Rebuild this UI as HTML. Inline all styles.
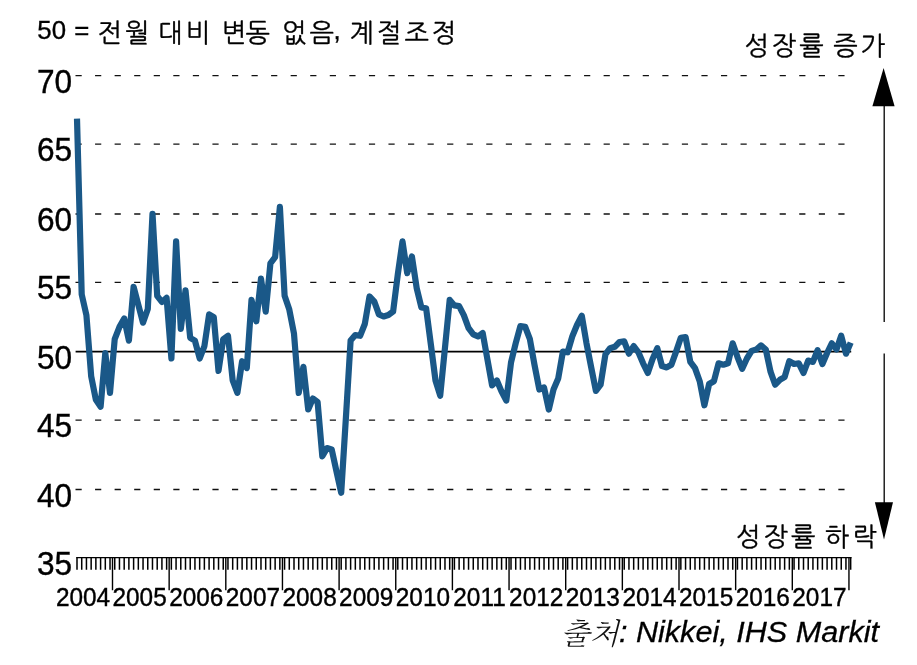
<!DOCTYPE html>
<html lang="ko"><head><meta charset="utf-8"><title>chart</title>
<style>
html,body{margin:0;padding:0;background:#fff;}
body{width:917px;height:665px;overflow:hidden;position:relative;font-family:"Liberation Sans","NanumGothic",sans-serif;}
svg{position:absolute;left:0;top:0;display:block}
.t{font-family:"Liberation Sans","NanumGothic",sans-serif;fill:#000}
</style></head><body>
<svg width="917" height="665" viewBox="0 0 917 665">
<rect width="917" height="665" fill="#fff"/>
<g stroke="#111" stroke-width="1.3" stroke-dasharray="6.2 13.36" fill="none">
<line x1="75.5" y1="75.7" x2="847" y2="75.7"/>
<line x1="75.5" y1="144.2" x2="847" y2="144.2"/>
<line x1="75.5" y1="214.0" x2="847" y2="214.0"/>
<line x1="75.5" y1="282.4" x2="847" y2="282.4"/>
<line x1="75.5" y1="420.1" x2="847" y2="420.1"/>
<line x1="75.5" y1="489.5" x2="847" y2="489.5"/>
</g>
<line x1="75.6" y1="351.7" x2="851.2" y2="351.7" stroke="#000" stroke-width="1.7"/>
<path d="M76.2,557.6H851.6" stroke="#000" stroke-width="1.4" fill="none"/>
<path d="M77.00,557.6V569.8M81.72,557.6V569.8M86.44,557.6V569.8M91.15,557.6V569.8M95.87,557.6V569.8M100.59,557.6V569.8M105.31,557.6V569.8M110.02,557.6V569.8M114.74,557.6V569.8M119.46,557.6V569.8M124.18,557.6V569.8M128.89,557.6V569.8M133.61,557.6V569.8M138.33,557.6V569.8M143.05,557.6V569.8M147.76,557.6V569.8M152.48,557.6V569.8M157.20,557.6V569.8M161.92,557.6V569.8M166.63,557.6V569.8M171.35,557.6V569.8M176.07,557.6V569.8M180.79,557.6V569.8M185.50,557.6V569.8M190.22,557.6V569.8M194.94,557.6V569.8M199.66,557.6V569.8M204.37,557.6V569.8M209.09,557.6V569.8M213.81,557.6V569.8M218.53,557.6V569.8M223.24,557.6V569.8M227.96,557.6V569.8M232.68,557.6V569.8M237.40,557.6V569.8M242.11,557.6V569.8M246.83,557.6V569.8M251.55,557.6V569.8M256.26,557.6V569.8M260.98,557.6V569.8M265.70,557.6V569.8M270.42,557.6V569.8M275.13,557.6V569.8M279.85,557.6V569.8M284.57,557.6V569.8M289.29,557.6V569.8M294.00,557.6V569.8M298.72,557.6V569.8M303.44,557.6V569.8M308.16,557.6V569.8M312.88,557.6V569.8M317.59,557.6V569.8M322.31,557.6V569.8M327.03,557.6V569.8M331.75,557.6V569.8M336.46,557.6V569.8M341.18,557.6V569.8M345.90,557.6V569.8M350.62,557.6V569.8M355.33,557.6V569.8M360.05,557.6V569.8M364.77,557.6V569.8M369.49,557.6V569.8M374.20,557.6V569.8M378.92,557.6V569.8M383.64,557.6V569.8M388.36,557.6V569.8M393.07,557.6V569.8M397.79,557.6V569.8M402.51,557.6V569.8M407.23,557.6V569.8M411.94,557.6V569.8M416.66,557.6V569.8M421.38,557.6V569.8M426.10,557.6V569.8M430.81,557.6V569.8M435.53,557.6V569.8M440.25,557.6V569.8M444.97,557.6V569.8M449.68,557.6V569.8M454.40,557.6V569.8M459.12,557.6V569.8M463.84,557.6V569.8M468.55,557.6V569.8M473.27,557.6V569.8M477.99,557.6V569.8M482.71,557.6V569.8M487.42,557.6V569.8M492.14,557.6V569.8M496.86,557.6V569.8M501.58,557.6V569.8M506.29,557.6V569.8M511.01,557.6V569.8M515.73,557.6V569.8M520.45,557.6V569.8M525.16,557.6V569.8M529.88,557.6V569.8M534.60,557.6V569.8M539.32,557.6V569.8M544.03,557.6V569.8M548.75,557.6V569.8M553.47,557.6V569.8M558.18,557.6V569.8M562.90,557.6V569.8M567.62,557.6V569.8M572.34,557.6V569.8M577.06,557.6V569.8M581.77,557.6V569.8M586.49,557.6V569.8M591.21,557.6V569.8M595.93,557.6V569.8M600.64,557.6V569.8M605.36,557.6V569.8M610.08,557.6V569.8M614.80,557.6V569.8M619.51,557.6V569.8M624.23,557.6V569.8M628.95,557.6V569.8M633.67,557.6V569.8M638.38,557.6V569.8M643.10,557.6V569.8M647.82,557.6V569.8M652.54,557.6V569.8M657.25,557.6V569.8M661.97,557.6V569.8M666.69,557.6V569.8M671.41,557.6V569.8M676.12,557.6V569.8M680.84,557.6V569.8M685.56,557.6V569.8M690.27,557.6V569.8M694.99,557.6V569.8M699.71,557.6V569.8M704.43,557.6V569.8M709.14,557.6V569.8M713.86,557.6V569.8M718.58,557.6V569.8M723.30,557.6V569.8M728.01,557.6V569.8M732.73,557.6V569.8M737.45,557.6V569.8M742.17,557.6V569.8M746.88,557.6V569.8M751.60,557.6V569.8M756.32,557.6V569.8M761.04,557.6V569.8M765.75,557.6V569.8M770.47,557.6V569.8M775.19,557.6V569.8M779.91,557.6V569.8M784.62,557.6V569.8M789.34,557.6V569.8M794.06,557.6V569.8M798.78,557.6V569.8M803.50,557.6V569.8M808.21,557.6V569.8M812.93,557.6V569.8M817.65,557.6V569.8M822.37,557.6V569.8M827.08,557.6V569.8M831.80,557.6V569.8M836.52,557.6V569.8M841.24,557.6V569.8M845.95,557.6V569.8M850.67,557.6V569.8" stroke="#000" stroke-width="1.5" fill="none"/>
<path d="M112.50,557.6V590.2M169.15,557.6V590.2M225.80,557.6V590.2M282.45,557.6V590.2M339.10,557.6V590.2M395.75,557.6V590.2M452.40,557.6V590.2M509.05,557.6V590.2M565.70,557.6V590.2M622.35,557.6V590.2M679.00,557.6V590.2M735.65,557.6V590.2M792.30,557.6V590.2M848.95,557.6V590.2" stroke="#000" stroke-width="1.4" fill="none"/>
<polyline points="77.0,118.7 81.7,294.4 86.4,315.1 91.2,376.4 95.9,399.8 100.6,406.7 105.3,353.0 110.0,392.9 114.7,339.2 119.5,326.8 124.2,318.5 128.9,340.6 133.6,286.8 138.3,304.7 143.0,322.7 147.8,308.9 152.5,213.8 157.2,295.8 161.9,302.0 166.6,297.9 171.4,358.5 176.1,241.4 180.8,328.9 185.5,290.3 190.2,337.8 194.9,340.6 199.7,358.5 204.4,346.1 209.1,314.4 213.8,317.2 218.5,370.9 223.2,339.2 228.0,335.8 232.7,380.5 237.4,392.9 242.1,361.2 246.8,368.1 251.5,299.9 256.3,321.3 261.0,278.6 265.7,311.6 270.4,263.4 275.1,257.2 279.9,206.9 284.6,295.8 289.3,309.6 294.0,333.7 298.7,392.9 303.4,366.8 308.2,409.5 312.9,398.5 317.6,401.9 322.3,456.3 327.0,448.1 331.7,449.4 336.5,471.5 341.2,492.8 345.9,417.7 350.6,340.6 355.3,335.1 360.1,335.8 364.8,324.0 369.5,296.5 374.2,301.3 378.9,314.4 383.6,316.5 388.4,315.1 393.1,311.6 397.8,274.4 402.5,241.4 407.2,273.1 411.9,256.5 416.7,288.2 421.4,307.5 426.1,308.2 430.8,344.0 435.5,380.5 440.2,395.7 445.0,347.5 449.7,299.9 454.4,305.4 459.1,306.1 463.8,315.1 468.6,328.2 473.3,334.4 478.0,336.4 482.7,333.0 487.4,359.2 492.1,385.4 496.9,380.5 501.6,391.6 506.3,400.5 511.0,362.6 515.7,343.3 520.4,326.1 525.2,326.8 529.9,339.2 534.6,365.4 539.3,389.5 544.0,387.4 548.8,409.5 553.5,389.5 558.2,378.5 562.9,351.6 567.6,352.3 572.3,336.4 577.1,324.7 581.8,315.8 586.5,343.3 591.2,367.4 595.9,390.9 600.6,384.7 605.4,354.4 610.1,348.2 614.8,346.8 619.5,342.0 624.2,341.3 628.9,353.7 633.7,346.1 638.4,352.3 643.1,363.3 647.8,373.0 652.5,359.2 657.3,348.2 662.0,366.1 666.7,367.4 671.4,364.7 676.1,351.6 680.8,337.8 685.6,337.1 690.3,361.9 695.0,368.1 699.7,381.2 704.4,405.3 709.1,384.0 713.9,381.2 718.6,363.3 723.3,364.7 728.0,363.3 732.7,343.3 737.5,357.1 742.2,368.8 746.9,358.5 751.6,350.9 756.3,349.5 761.0,345.4 765.8,349.5 770.5,371.6 775.2,384.7 779.9,379.8 784.6,377.1 789.3,361.2 794.1,364.0 798.8,363.3 803.5,373.0 808.2,360.6 812.9,361.9 817.6,350.2 822.4,364.0 827.1,353.0 831.8,343.3 836.5,349.5 841.2,335.8 846.0,353.7 850.7,342.6" fill="none" stroke="#1a5888" stroke-width="6.2" stroke-linejoin="round" stroke-linecap="butt"/>
<g class="t" font-size="32.6" stroke="#000" stroke-width="0.4">
<text transform="translate(37.0,92.7) scale(0.97,1)">70</text>
<text transform="translate(37.0,161.2) scale(0.97,1)">65</text>
<text transform="translate(37.0,231.0) scale(0.97,1)">60</text>
<text transform="translate(37.0,299.4) scale(0.97,1)">55</text>
<text transform="translate(37.0,368.7) scale(0.97,1)">50</text>
<text transform="translate(37.0,437.1) scale(0.97,1)">45</text>
<text transform="translate(37.0,506.5) scale(0.97,1)">40</text>
<text transform="translate(37.0,574.6) scale(0.97,1)">35</text>
</g>
<g class="t" font-size="25" stroke="#000" stroke-width="0.4">
<text transform="translate(83.0,605.9) scale(0.975,1)" text-anchor="middle">2004</text>
<text transform="translate(139.6,605.9) scale(0.975,1)" text-anchor="middle">2005</text>
<text transform="translate(196.3,605.9) scale(0.975,1)" text-anchor="middle">2006</text>
<text transform="translate(252.9,605.9) scale(0.975,1)" text-anchor="middle">2007</text>
<text transform="translate(309.6,605.9) scale(0.975,1)" text-anchor="middle">2008</text>
<text transform="translate(366.2,605.9) scale(0.975,1)" text-anchor="middle">2009</text>
<text transform="translate(422.9,605.9) scale(0.975,1)" text-anchor="middle">2010</text>
<text transform="translate(479.5,605.9) scale(0.975,1)" text-anchor="middle">2011</text>
<text transform="translate(536.2,605.9) scale(0.975,1)" text-anchor="middle">2012</text>
<text transform="translate(592.8,605.9) scale(0.975,1)" text-anchor="middle">2013</text>
<text transform="translate(649.5,605.9) scale(0.975,1)" text-anchor="middle">2014</text>
<text transform="translate(706.1,605.9) scale(0.975,1)" text-anchor="middle">2015</text>
<text transform="translate(762.8,605.9) scale(0.975,1)" text-anchor="middle">2016</text>
<text transform="translate(819.4,605.9) scale(0.975,1)" text-anchor="middle">2017</text>
</g>
<text class="t" y="41.8" font-size="26" letter-spacing="3.0" stroke="#000" stroke-width="0.35"><tspan x="37.3" y="39.4" font-size="25.8" letter-spacing="0">50 </tspan><tspan x="74.2" y="39.4" font-size="25.8" letter-spacing="0">= </tspan><tspan x="97.6" y="41.8">전월 </tspan><tspan x="158.3">대비 </tspan><tspan x="221.7 245.6">변동 </tspan><tspan x="282">없음</tspan><tspan x="333.6" y="39.4" font-size="25.8" letter-spacing="0">, </tspan><tspan x="349.5" y="41.8">계절조정</tspan></text>
<text class="t" y="55" font-size="26" letter-spacing="3.0" stroke="#000" stroke-width="0.35"><tspan x="744.4">성장률 </tspan><tspan x="833.3">증가</tspan></text>
<text class="t" y="546" font-size="26" letter-spacing="3.0" stroke="#000" stroke-width="0.35"><tspan x="736">성장률 </tspan><tspan x="824.7">하락</tspan></text>
<g stroke="#000" stroke-width="1.3" fill="none">
<line x1="884.2" y1="322" x2="884.2" y2="100"/>
<line x1="884.2" y1="353.5" x2="884.2" y2="505"/>
</g>
<polygon points="883.6,68 872.4,106.3 894.6,106.3" fill="#000"/>
<polygon points="884,539.5 874.9,502.2 893,502.2" fill="#000"/>
<text transform="translate(879,642.2) scale(1.02,1)" font-size="30" text-anchor="end" font-style="italic" style="font-family:'Liberation Sans','Noto Serif CJK SC',sans-serif" fill="#000" stroke="#000" stroke-width="0.3"><tspan style="font-family:'Liberation Serif','Noto Serif CJK SC',serif" font-weight="300" font-size="29.5" fill="#111" stroke="none" dy="1.6">출처</tspan><tspan dy="-1.6">: Nikkei, IHS Markit</tspan></text>
</svg>
</body></html>
